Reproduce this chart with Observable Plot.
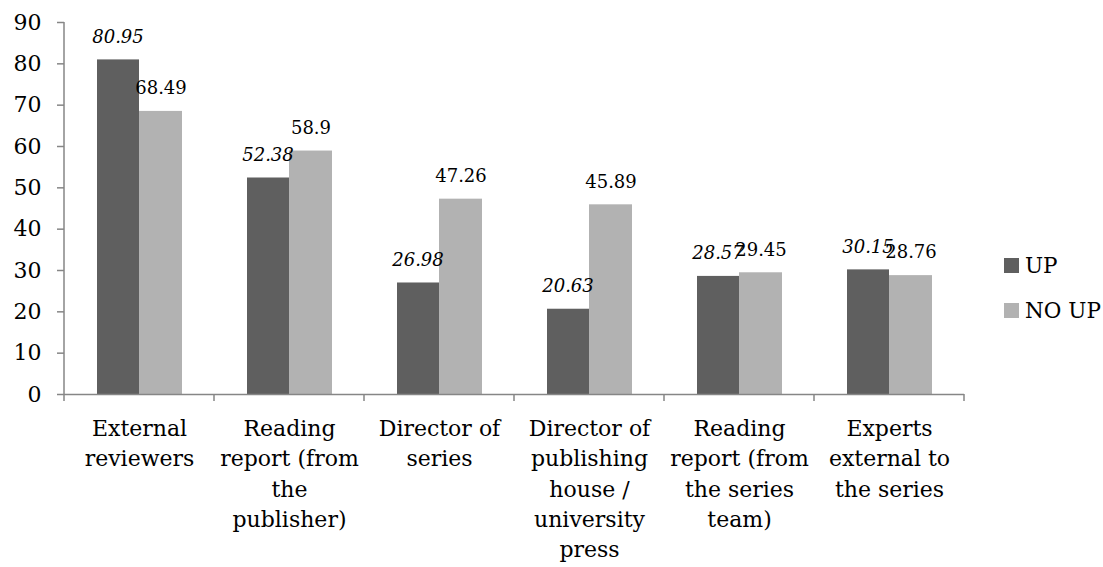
<!DOCTYPE html>
<html>
<head>
<meta charset="utf-8">
<script src="https://cdn.jsdelivr.net/npm/d3@7"></script>
<script src="https://cdn.jsdelivr.net/npm/@observablehq/plot@0.6"></script>
<style>
  body { margin: 0; background: #fff; font-family: "DejaVu Serif", serif; }
  #wrap { position: relative; width: 1103px; height: 567px; overflow: hidden; }
  #legend { position: absolute; left: 1004px; top: 243px; width: 99px; font-size: 21.5px; color: #000; }
  #legend .item { display: flex; align-items: center; height: 45px; line-height: 1; white-space: nowrap; }
  #legend .sw { flex: none; width: 15px; height: 15px; margin-right: 6px; }
</style>
</head>
<body>
<div id="wrap"><div id="chart"></div><div id="legend"></div></div>
<script>
// ---- data ----
const categories = [
  "External reviewers",
  "Reading report (from the publisher)",
  "Director of series",
  "Director of publishing house / university press",
  "Reading report (from the series team)",
  "Experts external to the series"
];
const categoryTickLabels = [
  "External\nreviewers",
  "Reading\nreport (from\nthe\npublisher)",
  "Director of\nseries",
  "Director of\npublishing\nhouse /\nuniversity\npress",
  "Reading\nreport (from\nthe series\nteam)",
  "Experts\nexternal to\nthe series"
];
const seriesNames = ["UP", "NO UP"];
const upValues = [80.95, 52.38, 26.98, 20.63, 28.57, 30.15];
const noUpValues = [68.49, 58.9, 47.26, 45.89, 29.45, 28.76];
const yTicks = [0, 10, 20, 30, 40, 50, 60, 70, 80, 90];
const seriesColors = ["#5f5f5f", "#b2b2b2"];

// ---- table ----
const upRows = categories.map((c, i) => ({category: c, series: "UP", value: upValues[i]}));
const noUpRows = categories.map((c, i) => ({category: c, series: "NO UP", value: noUpValues[i]}));

const axisColor = "#868686";

function axisLines(index, scales, values, dimensions) {
  const {x, y} = scales;
  const bw = x.bandwidth();
  const g = d3.create("svg:g").attr("stroke", axisColor).attr("stroke-width", 1.5).attr("fill", "none");
  const y0 = y(0), yTop = y(yTicks[yTicks.length - 1]);
  const x0 = x(categories[0]);
  // y axis line
  g.append("line").attr("x1", x0).attr("x2", x0).attr("y1", yTop).attr("y2", y0);
  // category boundary ticks
  const bounds = categories.map(c => x(c)).concat([x(categories[categories.length - 1]) + bw]);
  for (const bx of bounds) {
    g.append("line").attr("x1", bx).attr("x2", bx).attr("y1", y0).attr("y2", y0 + 7);
  }
  return g.node();
}

const plot = Plot.plot({
  width: 1103,
  height: 567,
  marginLeft: 64,
  marginRight: 139,
  marginTop: 22,
  marginBottom: 173,
  style: {fontFamily: "DejaVu Serif, serif", fontSize: "22px", color: "#000", background: "#fff", overflow: "visible"},
  x: {domain: categories, padding: 0, axis: null},
  y: {domain: [0, 90], axis: null},
  color: {domain: seriesNames, range: seriesColors},
  marks: [
    Plot.barY(upRows, {x: "category", y: "value", fill: "series", insetLeft: 33, insetRight: 75}),
    Plot.barY(noUpRows, {x: "category", y: "value", fill: "series", insetLeft: 75, insetRight: 32}),
    Plot.axisY({ticks: yTicks, tickSize: 7, tickPadding: 16, stroke: axisColor, strokeWidth: 1.5, fill: "#000", fontSize: 22, label: null}),
    Plot.ruleY([0], {stroke: axisColor, strokeWidth: 1.5}),
    axisLines,
    Plot.text(upRows, {x: "category", y: "value", text: d => String(d.value), dx: -21.5, dy: -23, fontStyle: "italic", fontSize: 18, fill: "#000"}),
    Plot.text(noUpRows, {x: "category", y: "value", text: d => String(d.value), dx: 21.5, dy: -23, fontSize: 18, fill: "#000"}),
    Plot.text(categories, {x: d => d, text: (d, i) => categoryTickLabels[i], frameAnchor: "bottom", lineAnchor: "top", dy: 20, lineHeight: 1.38, fontSize: 22, fill: "#000"})
  ]
});
document.getElementById("chart").appendChild(plot);

// ---- legend ----
const legend = document.getElementById("legend");
seriesNames.forEach((s, i) => {
  const item = document.createElement("div");
  item.className = "item";
  const sw = document.createElement("span");
  sw.className = "sw";
  sw.style.background = seriesColors[i];
  const label = document.createElement("span");
  label.textContent = s;
  item.appendChild(sw);
  item.appendChild(label);
  legend.appendChild(item);
});
</script>
</body>
</html>
